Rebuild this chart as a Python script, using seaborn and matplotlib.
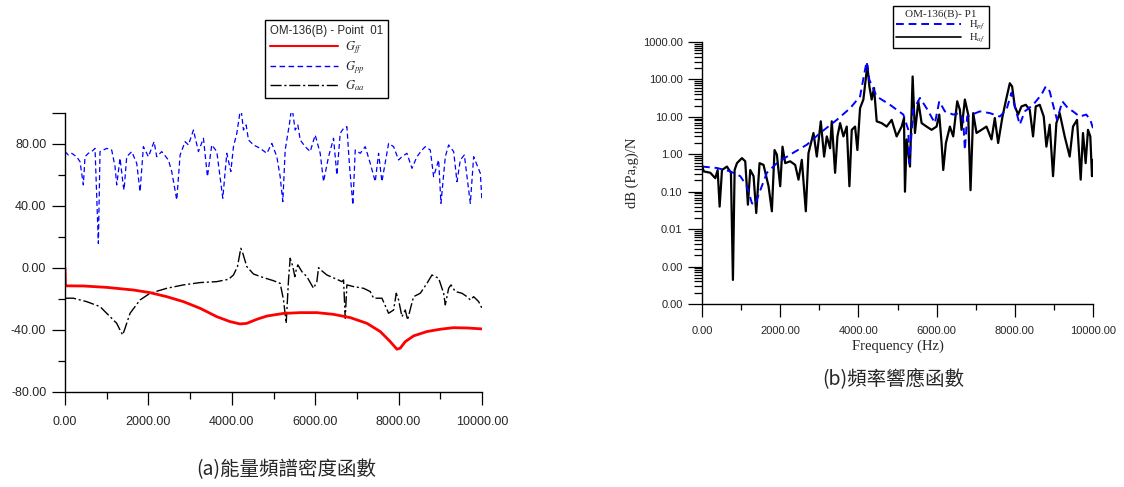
import numpy as np
import pandas as pd
import seaborn as sns
import matplotlib.pyplot as plt
from matplotlib.lines import Line2D
from matplotlib.ticker import FixedLocator, FormatStrFormatter, LogLocator, MultipleLocator, NullFormatter

sns.set_theme(style="ticks")
plt.rcParams['font.family'] = ['Liberation Sans', 'DejaVu Sans']
plt.rcParams['mathtext.fontset'] = 'stix'

### data

# (a) energy spectral density, dB
freq_pp = [0, 80, 160, 280, 360, 440, 480, 560, 640, 720, 800, 840, 920, 1000, 1120, 1200, 1240,
           1320, 1400, 1416, 1480, 1600, 1720, 1800, 1880, 2000, 2136, 2200, 2320, 2480, 2560, 2680,
           2760, 2880, 2960, 3080, 3200, 3320, 3416, 3520, 3640, 3784, 3880, 3976, 4040, 4120, 4216,
           4280, 4344, 4400, 4520, 4680, 4840, 4960, 5080, 5160, 5224, 5280, 5384, 5440, 5520, 5584,
           5640, 5760, 5880, 6000, 6120, 6200, 6320, 6440, 6520, 6600, 6680, 6760, 6824, 6904, 6960,
           7080, 7200, 7320, 7440, 7520, 7600, 7760, 7880, 8000, 8080, 8200, 8320, 8440, 8560, 8640,
           8760, 8840, 8960, 9016, 9120, 9200, 9320, 9400, 9480, 9576, 9720, 9800, 9896, 9960, 10000]
g_pp = [75.1, 72.9, 74.0, 71.8, 68.6, 53.6, 71.8, 74.0, 75.1, 77.2, 15.9, 75.1, 76.1, 77.2, 76.1,
        65.4, 53.6, 70.8, 52.5, 50.3, 71.8, 75.1, 67.5, 49.3, 78.3, 71.8, 81.5, 71.8, 75.1, 69.7,
        62.2, 43.9, 72.9, 81.5, 79.4, 89.0, 75.1, 83.7, 58.9, 79.4, 75.1, 45.0, 74.0, 62.2, 78.3,
        86.9, 104.0, 89.0, 92.3, 82.6, 79.4, 77.2, 74.0, 80.4, 71.8, 58.9, 42.8, 76.1, 93.3, 104.5,
        89.0, 92.3, 82.6, 78.3, 75.1, 85.8, 74.0, 55.7, 71.8, 83.7, 60.0, 86.9, 90.1, 91.2, 65.4,
        40.7, 76.1, 74.0, 78.3, 67.5, 55.7, 74.0, 55.7, 80.4, 78.3, 69.7, 71.8, 74.0, 64.3, 71.8,
        76.1, 78.3, 76.1, 58.9, 69.7, 41.7, 71.8, 79.4, 75.1, 55.7, 69.7, 72.9, 41.7, 71.8, 65.4,
        61.1, 43.0]

freq_aa = [0, 200, 520, 840, 1080, 1240, 1320, 1384, 1440, 1560, 1800, 2040, 2440, 2840, 3240, 3640,
           3920, 4040, 4136, 4216, 4264, 4360, 4520, 4760, 5000, 5160, 5240, 5304, 5360, 5400, 5464,
           5512, 5544, 5584, 5680, 5800, 5960, 6040, 6080, 6136, 6280, 6520, 6640, 6680, 6720, 6760,
           6920, 7160, 7320, 7400, 7600, 7760, 7880, 7944, 8000, 8080, 8160, 8216, 8296, 8360, 8520,
           8680, 8800, 8880, 8960, 9080, 9120, 9200, 9256, 9360, 9520, 9640, 9720, 9800, 9920, 10000]
g_aa = [-19.5, -19.5, -21.7, -24.9, -31.4, -35.7, -40.0, -43.2, -38.9, -29.2, -20.6, -16.3, -13.1,
        -10.9, -9.4, -8.8, -7.3, -4.5, 0.9, 12.7, 9.5, 0.9, -3.9, -6.2, -8.2, -9.9, -20.6, -35.7,
        -7.7, 6.3, 0.9, -5.6, -1.3, 2.0, -2.3, -5.6, -13.1, -8.8, 0.2, -1.3, -4.5, -7.3, -8.8, -7.7,
        -32.4, -10.9, -12.0, -13.1, -15.2, -19.5, -19.5, -29.2, -27.1, -16.3, -20.6, -31.4, -27.1,
        -33.5, -24.9, -18.5, -16.3, -9.9, -4.5, -5.6, -6.6, -16.3, -23.8, -13.1, -10.9, -15.2, -16.3,
        -18.5, -20.6, -18.5, -21.7, -26.0]

freq_ff = [0, 10, 440, 1000, 1640, 2040, 2440, 2840, 3240, 3640, 3960, 4200, 4360, 4600, 4840, 5240,
           5640, 6040, 6440, 6840, 7240, 7560, 7800, 7960, 8040, 8160, 8360, 8680, 9000, 9320, 9640,
           10000]
g_ff = [0.0, -11.5, -11.6, -12.5, -14.2, -15.9, -18.5, -21.7, -26.0, -31.4, -34.6, -36.1, -35.7,
        -33.1, -31.0, -29.3, -28.8, -28.8, -29.9, -32.0, -35.7, -41.0, -47.5, -52.4, -51.7, -47.5,
        -43.8, -41.0, -39.5, -38.5, -38.7, -39.3]

# (b) frequency response functions
freq_pf = [0, 383, 723, 979, 1149, 1277, 1362, 1447, 1659, 1915, 2255, 2681, 3021, 3447, 3787, 4042,
           4170, 4212, 4281, 4468, 4808, 5149, 5276, 5302, 5404, 5574, 5744, 5957, 6068, 6212, 6425,
           6595, 6680, 6723, 6782, 7106, 7361, 7616, 7787, 7915, 8000, 8127, 8255, 8467, 8680, 8791,
           8893, 8978, 9080, 9216, 9361, 9489, 9659, 9829, 9931, 10000]
h_pf = [0.47, 0.43, 0.35, 0.26, 0.14, 0.049, 0.045, 0.083, 0.32, 0.58, 0.98, 1.8, 3.7, 8.3, 17, 35,
        182, 300, 98, 35, 21, 11.5, 4.5, 0.58, 15.5, 32, 17, 6.8, 26, 14, 11.5, 12.6, 8.3, 1.3, 10.2,
        14, 12.6, 10.2, 15.5, 44, 19, 6.2, 14, 21, 39, 65, 48, 21, 8.3, 26, 17, 14, 10.2, 11.5, 8.3,
        5.0]

freq_af = [0, 43, 213, 340, 400, 451, 511, 638, 740, 791, 834, 894, 1021, 1106, 1174, 1234, 1319,
           1387, 1472, 1574, 1702, 1787, 1855, 1915, 2000, 2059, 2128, 2255, 2383, 2468, 2553, 2655,
           2723, 2851, 2936, 3038, 3123, 3191, 3276, 3319, 3404, 3464, 3532, 3617, 3702, 3770, 3830,
           3915, 3974, 4042, 4127, 4195, 4229, 4281, 4340, 4400, 4468, 4595, 4723, 4851, 4978, 5106,
           5166, 5191, 5234, 5319, 5387, 5446, 5532, 5617, 5744, 5872, 5999, 6068, 6127, 6170, 6238,
           6340, 6425, 6527, 6595, 6638, 6723, 6808, 6868, 6936, 7021, 7148, 7276, 7404, 7489, 7574,
           7685, 7787, 7872, 7931, 8000, 8085, 8170, 8280, 8382, 8467, 8536, 8638, 8740, 8808, 8893,
           8978, 9063, 9148, 9276, 9404, 9489, 9591, 9685, 9744, 9812, 9872, 9931, 9974, 10000]
h_af = [0.52, 0.35, 0.32, 0.23, 0.38, 0.040, 0.38, 0.47, 0.32, 0.00044, 0.38, 0.58, 0.79, 0.65,
        0.045, 0.38, 0.26, 0.027, 0.58, 0.52, 0.14, 0.030, 1.3, 0.98, 0.14, 1.6, 0.58, 0.65, 0.52,
        0.21, 0.71, 0.030, 1.07, 3.7, 0.87, 7.6, 0.87, 3.0, 1.45, 7.6, 0.32, 3.0, 6.8, 3.0, 5.5,
        0.14, 4.5, 5.5, 1.3, 17, 29, 120, 234, 65, 29, 59, 7.6, 6.8, 5.5, 8.3, 3.0, 5.5, 9.3, 0.10,
        2.5, 0.47, 120, 3.7, 26, 6.8, 5.5, 4.5, 5.5, 11.5, 2.0, 0.38, 2.0, 5.5, 3.0, 26, 15.5, 4.5,
        29, 11.5, 0.11, 12.6, 3.7, 4.5, 5.5, 2.5, 9.3, 2.0, 10.2, 32, 79, 65, 19, 11.5, 19, 21, 15.5,
        3.0, 19, 21, 10.2, 1.6, 6.2, 0.26, 6.8, 12.6, 3.0, 0.87, 5.5, 8.3, 0.21, 3.7, 0.58, 4.5, 3.0,
        0.26, 0.71]

legend_title_a = "OM-136(B) - Point  01"
legend_title_b = "OM-136(B)- P1"
caption_a = "(a)能量頻譜密度函數"
caption_b = "(b)頻率響應函數"

W, H = 1124, 487
SERIF = ['Liberation Serif', 'DejaVu Serif']
CJK = ['Noto Sans CJK TC', 'DejaVu Sans']


def style_axis(ax):
    sns.despine(ax=ax)
    for sp in ax.spines.values():
        sp.set_linewidth(1.0)
        sp.set_color('black')
    ax.set_xlim(0, 10000)
    ax.xaxis.set_major_locator(MultipleLocator(2000))
    ax.xaxis.set_minor_locator(MultipleLocator(1000))
    ax.xaxis.set_major_formatter(FormatStrFormatter('%.2f'))
    ax.tick_params(which='major', length=9.5, width=0.9, color='black')
    ax.tick_params(which='minor', length=5, width=0.9, color='black')
    ax.set_xlabel('')
    ax.set_ylabel('')


def main():
    fig = plt.figure(figsize=(W / 100, H / 100), dpi=100)
    ax1 = fig.add_axes([65 / W, 95 / H, 417 / W, 279 / H])
    ax2 = fig.add_axes([702 / W, 183 / H, 391 / W, 262 / H])

    # --- (a) energy spectral density ---
    sns.lineplot(x=freq_pp, y=g_pp, ax=ax1, color='#0000ff', lw=0.9,
                 linestyle=(0, (4, 2.5)), estimator=None, sort=False)
    sns.lineplot(x=freq_aa, y=g_aa, ax=ax1, color='black', lw=1.0,
                 linestyle=(0, (8, 2, 1.5, 2)), estimator=None, sort=False)
    sns.lineplot(x=freq_ff, y=g_ff, ax=ax1, color='#ff0000', lw=2.0,
                 estimator=None, sort=False)

    style_axis(ax1)
    ax1.set_ylim(-80, 100)
    ax1.yaxis.set_major_locator(FixedLocator([-80, -40, 0, 40, 80, 100]))
    ax1.yaxis.set_minor_locator(FixedLocator([-60, -20, 20, 60]))
    ax1.set_yticklabels(['-80.00', '-40.00', '0.00', '40.00', '80.00', ''])
    ax1.tick_params(axis='both', which='major', labelsize=9)
    ax1.tick_params(axis='y', which='major', pad=4)
    ax1.tick_params(axis='x', which='major', pad=8)

    h_a = [Line2D([], [], color='#ff0000', lw=1.5),
           Line2D([], [], color='#0000ff', lw=1.0, linestyle=(0, (4, 2.5))),
           Line2D([], [], color='black', lw=1.0, linestyle=(0, (8, 2, 1.5, 2)))]
    leg = ax1.legend(h_a, [r'$G_{ff}$', r'$G_{pp}$', r'$G_{aa}$'], title=legend_title_a,
                     loc='upper left', bbox_to_anchor=(265 / W, 1 - 20 / H),
                     bbox_transform=fig.transFigure, borderaxespad=0, fancybox=False,
                     edgecolor='black', framealpha=1, fontsize=9, title_fontsize=8.3,
                     handlelength=5.4, labelspacing=0.22, borderpad=0.4, handletextpad=0.6)
    leg.get_frame().set_linewidth(1.0)
    leg._legend_box.align = 'left'

    # --- (b) frequency response function ---
    sns.lineplot(x=freq_af, y=h_af, ax=ax2, color='black', lw=1.6,
                 estimator=None, sort=False)
    sns.lineplot(x=freq_pf, y=h_pf, ax=ax2, color='#0000ff', lw=1.4,
                 linestyle=(0, (4, 2.5)), estimator=None, sort=False)

    style_axis(ax2)
    ax2.set_yscale('log')
    ax2.set_ylim(1e-4, 1e3)
    ax2.yaxis.set_major_locator(LogLocator(base=10, numticks=12))
    ax2.yaxis.set_minor_locator(LogLocator(base=10, subs=np.arange(2, 10), numticks=12))
    ax2.yaxis.set_major_formatter(FormatStrFormatter('%.2f'))
    ax2.yaxis.set_minor_formatter(NullFormatter())
    ax2.tick_params(axis='both', which='major', labelsize=8)
    ax2.tick_params(axis='y', which='major', length=10, pad=4)
    ax2.tick_params(axis='y', which='minor', length=5.5)
    ax2.tick_params(axis='x', which='major', pad=6)
    ax2.tick_params(axis='x', which='minor', length=4.5)
    ax2.set_xlabel('Frequency (Hz)', family=SERIF, fontsize=10.5, labelpad=3)
    ax2.set_ylabel('dB (Pa,g)/N', family=SERIF, fontsize=10.5, labelpad=3)

    h_b = [Line2D([], [], color='#0000ff', lw=1.4, linestyle=(0, (4, 2.5))),
           Line2D([], [], color='black', lw=1.2)]
    leg2 = ax2.legend(h_b, [r'$\mathrm{H}_{pf}$', r'$\mathrm{H}_{af}$'], title=legend_title_b,
                      loc='lower left', bbox_to_anchor=(893 / W, 1 - 48 / H),
                      bbox_transform=fig.transFigure, borderaxespad=0, fancybox=False,
                      edgecolor='black', framealpha=1, fontsize=7.5, title_fontsize=8,
                      handlelength=6.2, labelspacing=0.0, borderpad=0.3, handletextpad=0.8)
    leg2.get_frame().set_linewidth(1.0)
    leg2.get_title().set_family(SERIF)

    # captions
    fig.text(286 / W, 1 - 470 / H, caption_a, ha='center', va='center', fontsize=14, family=CJK)
    fig.text(893 / W, 1 - 380 / H, caption_b, ha='center', va='center', fontsize=14, family=CJK)

    fig.savefig('out.png', dpi=100, facecolor='white')
    plt.close('all')


if __name__ == "__main__":
    main()
